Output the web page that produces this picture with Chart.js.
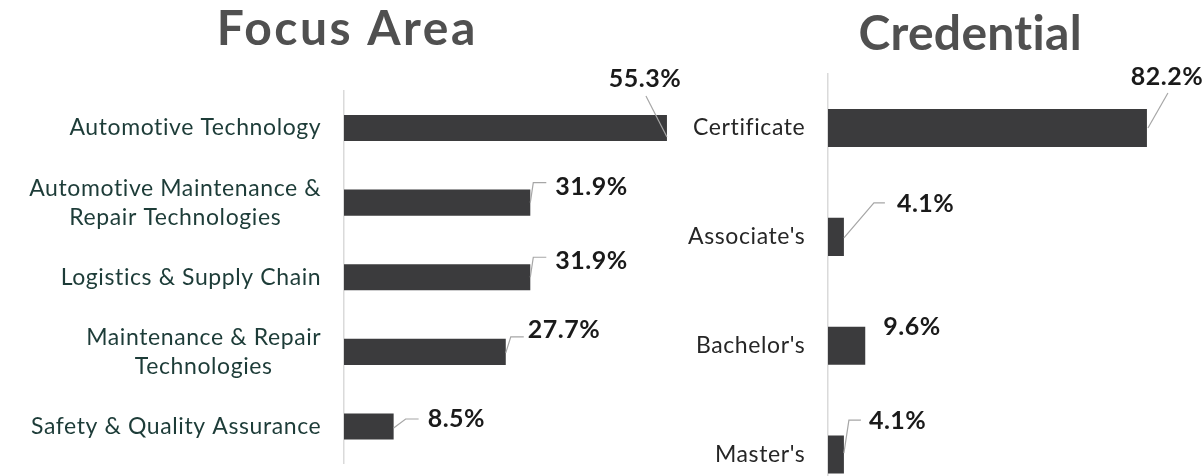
<!DOCTYPE html>
<html><head><meta charset="utf-8">
<script src="https://cdn.jsdelivr.net/npm/chart.js@4.4.1/dist/chart.umd.min.js"></script>
<style>
html,body{margin:0;padding:0;background:#fff;overflow:hidden;width:1202px;height:476px;position:relative}
#l{position:absolute;left:0;top:0}
#r{position:absolute;left:600px;top:0}
</style></head>
<body>
<canvas id="l" width="700" height="476"></canvas>
<canvas id="r" width="602" height="520"></canvas>
<script>
// ---- data ----
const focusTitle = "Focus Area";
const focusCategories = [["Automotive Technology"], ["Automotive Maintenance &", "Repair Technologies"], ["Logistics & Supply Chain"], ["Maintenance & Repair", "Technologies"], ["Safety & Quality Assurance"]];
const focusValues = [55.3, 31.9, 31.9, 27.7, 8.5];

const credentialTitle = "Credential";
const credentialCategories = ["Certificate", "Associate's", "Bachelor's", "Master's"];
const credentialValues = [82.2, 4.1, 9.6, 4.1];

// ---- styles ----
const FONT = "Lato, 'Open Sans', sans-serif";
const BAR = "#3b3b3d";

const titlePlugin = {
  id: 'ptitle',
  afterDraw(chart, args, o) {
    const ctx = chart.ctx; ctx.save();
    ctx.font = `bold ${o.size}px ${FONT}`; ctx.fillStyle = o.color;
    ctx.letterSpacing = o.spacing + 'px';
    ctx.textAlign = 'center'; ctx.textBaseline = 'alphabetic';
    ctx.fillText(o.text, o.x + o.spacing / 2, o.y); ctx.restore();
  }
};

const tickPlugin = {
  id: 'cticks',
  afterDraw(chart, args, o) {
    const ctx = chart.ctx, sc = chart.scales.y; ctx.save();
    ctx.font = `${o.size}px ${FONT}`; ctx.fillStyle = o.color; ctx.textBaseline = 'middle'; ctx.textAlign = 'center';
    ctx.letterSpacing = o.spacing + 'px';
    chart.data.labels.forEach((lab, i) => {
      const lines = Array.isArray(lab) ? lab : [lab];
      const w = Math.max(...lines.map(s => ctx.measureText(s).width));
      const cx = sc.right - o.gap - w / 2 + o.spacing / 2;
      const y = sc.getPixelForTick(i);
      lines.forEach((s, k) => ctx.fillText(s, cx, y + (k - (lines.length - 1) / 2) * o.lineHeight));
    });
    ctx.restore();
  }
};

const calloutPlugin = {
  id: 'callouts',
  afterDatasetsDraw(chart, args, o) {
    const ctx = chart.ctx, meta = chart.getDatasetMeta(0), data = chart.data.datasets[0].data;
    ctx.save();
    meta.data.forEach((bar, i) => {
      const L = o.layouts[i], x = bar.x, y = bar.y;
      if (L.leader) {
        ctx.beginPath();
        L.leader.forEach(([dx, dy], k) => k ? ctx.lineTo(x + dx, y + dy) : ctx.moveTo(x + dx, y + dy));
        ctx.strokeStyle = '#a6a6a6'; ctx.lineWidth = 1.2; ctx.stroke();
      }
      ctx.font = `bold ${o.size}px ${FONT}`; ctx.fillStyle = '#1a1a1a';
      ctx.letterSpacing = '0.5px';
      ctx.textAlign = L.align; ctx.textBaseline = 'alphabetic';
      ctx.fillText(data[i].toFixed(1) + '%', x + L.dx, y + L.dy);
    });
    ctx.restore();
  }
};

function makeChart(id, labels, values, cfg) {
  return new Chart(document.getElementById(id), {
    type: 'bar',
    data: { labels, datasets: [{ data: values, backgroundColor: BAR, borderWidth: 0, categoryPercentage: 1, barPercentage: 0.35 }] },
    options: {
      indexAxis: 'y', responsive: false, animation: false,
      layout: { padding: cfg.padding },
      scales: {
        x: { display: false, min: 0, max: cfg.max },
        y: { grid: { display: false }, ticks: { display: false }, border: { display: true, color: '#dadada', width: 1.5 },
             afterFit: s => { s.width = cfg.axisWidth; } }
      },
      plugins: {
        legend: { display: false }, tooltip: { enabled: false }, title: { display: false },
        ptitle: cfg.title,
        cticks: { size: 23, spacing: 0.6, lineHeight: 29, gap: 23, color: cfg.labelColor },
        callouts: { size: 25, layouts: cfg.layouts }
      }
    },
    plugins: [titlePlugin, tickPlugin, calloutPlugin]
  });
}

makeChart('l', focusCategories, focusValues, {
  padding: { top: 90.7, bottom: 12.2, left: 0, right: 5.6 }, max: 60, axisWidth: 344,
  labelColor: '#1d3c38',
  title: { text: focusTitle, x: 346, y: 45, size: 48, spacing: 2.5, color: '#505050' },
  layouts: [
    { align: 'center', dx: -22, dy: -41, leader: [[0, 9], [-21, -32]] },
    { align: 'left', dx: 25, dy: -8, leader: [[0, 0], [3, -20], [16, -20]] },
    { align: 'left', dx: 25, dy: -8, leader: [[0, 0], [3, -20], [16, -20]] },
    { align: 'left', dx: 22, dy: -14, leader: [[0, 1], [5, -15], [18, -15]] },
    { align: 'left', dx: 34, dy: 0.5, leader: [[0, 1.5], [12, -7.5], [25, -7.5]] }
  ]
});

makeChart('r', credentialCategories, credentialValues, {
  padding: { top: 73.6, bottom: 11, left: 0, right: 24.8 }, max: 90, axisWidth: 228,
  labelColor: '#262626',
  title: { text: credentialTitle, x: 370, y: 50, size: 48, spacing: 0.3, color: '#505050' },
  layouts: [
    { align: 'center', dx: 20, dy: -43, leader: [[1, 0], [21, -35]] },
    { align: 'left', dx: 53, dy: -25, leader: [[0, 1], [30, -34], [41, -34]] },
    { align: 'left', dx: 18, dy: -11 },
    { align: 'left', dx: 25, dy: -25.5, leader: [[0, -1.5], [5, -34.5], [17, -34.5]] }
  ]
});
</script>
</body></html>
